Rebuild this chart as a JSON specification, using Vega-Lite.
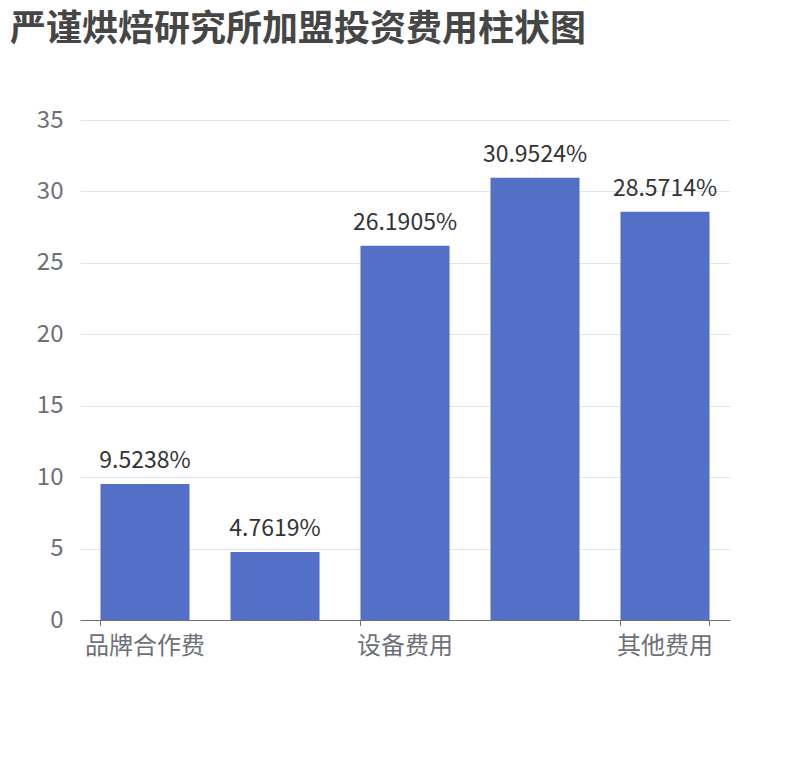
{
  "$schema": "https://vega.github.io/schema/vega-lite/v6.json",
  "autosize": "none",
  "width": 650,
  "height": 500,
  "padding": {"left": 80, "top": 120, "right": 80, "bottom": 140},
  "background": "white",
  "config": {
    "font": "Noto Sans CJK SC",
    "view": {"stroke": null}
  },
  "title": {
    "text": "严谨烘焙研究所加盟投资费用柱状图",
    "anchor": "start",
    "frame": "group",
    "dx": -70,
    "offset": 59,
    "fontSize": 36,
    "fontWeight": "bold",
    "color": "#464646",
    "font": "Noto Sans CJK SC"
  },
  "data": {
    "values": [
      {"item": "品牌合作费", "pct": 9.5238},
      {"item": "店面装修费", "pct": 4.7619},
      {"item": "设备费用", "pct": 26.1905},
      {"item": "首批原料费", "pct": 30.9524},
      {"item": "其他费用", "pct": 28.5714}
    ]
  },
  "encoding": {
    "x": {
      "field": "item",
      "type": "nominal",
      "sort": null,
      "title": null,
      "scale": {"paddingInner": 0.315, "paddingOuter": 0.1575},
      "axis": {
        "labelAngle": 0,
        "labelFontSize": 24,
        "labelColor": "#6E7079",
        "labelPadding": 14,
        "labelExpr": "indexof(['品牌合作费','设备费用','其他费用'], datum.value) >= 0 ? datum.value : ''",
        "ticks": false,
        "domainColor": "#6E7079",
        "grid": false
      }
    }
  },
  "layer": [
    {
      "mark": {"type": "bar", "color": "#5470C6"},
      "encoding": {
        "y": {
          "field": "pct",
          "type": "quantitative",
          "title": null,
          "scale": {"domain": [0, 35]},
          "axis": {
            "values": [0, 5, 10, 15, 20, 25, 30, 35],
            "labelFontSize": 24,
            "labelColor": "#6E7079",
            "labelPadding": 17,
            "domain": false,
            "ticks": false,
            "gridColor": "#E0E6F1"
          }
        }
      }
    },
    {
      "transform": [{"calculate": "format(datum.pct, '.4f') + '%'", "as": "lbl"}],
      "mark": {"type": "text", "fontSize": 23, "color": "#333333", "baseline": "alphabetic", "dy": -16},
      "encoding": {
        "y": {"field": "pct", "type": "quantitative"},
        "text": {"field": "lbl", "type": "nominal"}
      }
    },
    {
      "transform": [{"filter": "indexof(['品牌合作费','设备费用','其他费用'], datum.item) >= 0"}],
      "mark": {"type": "rule", "color": "#6E7079", "y2Offset": 6},
      "encoding": {
        "x": {"field": "item", "type": "nominal", "sort": null, "bandPosition": 0},
        "y": {"datum": 0},
        "y2": {"datum": 0}
      }
    },
    {
      "transform": [{"filter": "datum.item == '其他费用'"}],
      "mark": {"type": "rule", "color": "#6E7079", "y2Offset": 6},
      "encoding": {
        "x": {"field": "item", "type": "nominal", "sort": null, "bandPosition": 1},
        "y": {"datum": 0},
        "y2": {"datum": 0}
      }
    }
  ]
}
